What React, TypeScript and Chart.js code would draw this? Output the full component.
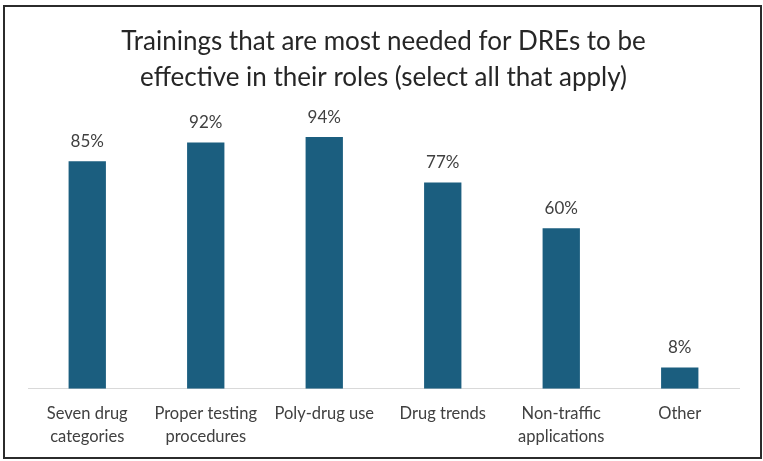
import React, { useEffect, useRef } from "react";
import { Chart, registerables } from "chart.js";

Chart.register(...registerables);

const categories: string[][] = [
  ["Seven drug", "categories"],
  ["Proper testing", "procedures"],
  ["Poly-drug use"],
  ["Drug trends"],
  ["Non-traffic", "applications"],
  ["Other"],
];
const values: number[] = [85, 92, 94, 77, 60, 8];
const titleLines: string[] = [
  "Trainings that are most needed for DREs to be",
  "effective in their roles (select all that apply)",
];

const FONT = "Lato, 'Open Sans', sans-serif";

const framePlugin = {
  id: "frame",
  afterDraw(chart: any) {
    const ctx = chart.ctx;
    ctx.save();
    ctx.strokeStyle = "#2b2b2b";
    ctx.lineWidth = 2;
    ctx.strokeRect(4, 6, 757, 452);
    ctx.restore();
  },
};

const labelPlugin = {
  id: "barLabels",
  afterDatasetsDraw(chart: any) {
    const ctx = chart.ctx;
    const meta = chart.getDatasetMeta(0);
    ctx.save();
    ctx.font = `17px ${FONT}`;
    ctx.fillStyle = "#404040";
    ctx.textAlign = "center";
    ctx.textBaseline = "middle";
    meta.data.forEach((bar: any, i: number) => {
      ctx.fillText(values[i] + "%", bar.x, bar.y - 20);
    });
    ctx.restore();
  },
};

export default function App() {
  const ref = useRef<HTMLCanvasElement | null>(null);
  useEffect(() => {
    if (!ref.current) return;
    const chart = new Chart(ref.current, {
      type: "bar",
      data: {
        labels: categories,
        datasets: [
          {
            data: values,
            backgroundColor: "#1b5e7f",
            categoryPercentage: 1,
            barPercentage: 0.315,
          },
        ],
      },
      options: {
        animation: false,
        responsive: false,
        maintainAspectRatio: false,
        layout: { padding: { left: 28, right: 24, top: 24, bottom: 0 } },
        plugins: {
          legend: { display: false },
          tooltip: { enabled: false },
          title: {
            display: true,
            text: titleLines,
            color: "#262626",
            font: { family: FONT, size: 26, weight: "normal", lineHeight: 1.385 },
            padding: { top: 0, bottom: 25 },
          },
        },
        scales: {
          y: { display: false, min: 0, max: 100 },
          x: {
            grid: { display: false, drawTicks: false },
            border: { display: true, color: "#d9d9d9", width: 1 },
            ticks: {
              color: "#404040",
              padding: 13,
              maxRotation: 0,
              autoSkip: false,
              font: { family: FONT, size: 16.5, lineHeight: 1.4 },
            },
          },
        },
      },
      plugins: [labelPlugin, framePlugin],
    });
    return () => chart.destroy();
  }, []);
  return (
    <div style={{ position: "fixed", left: 0, top: 0, width: 763, height: 461, background: "#fff" }}>
      <canvas ref={ref} width={763} height={461} style={{ width: 763, height: 461 }} />
    </div>
  );
}
